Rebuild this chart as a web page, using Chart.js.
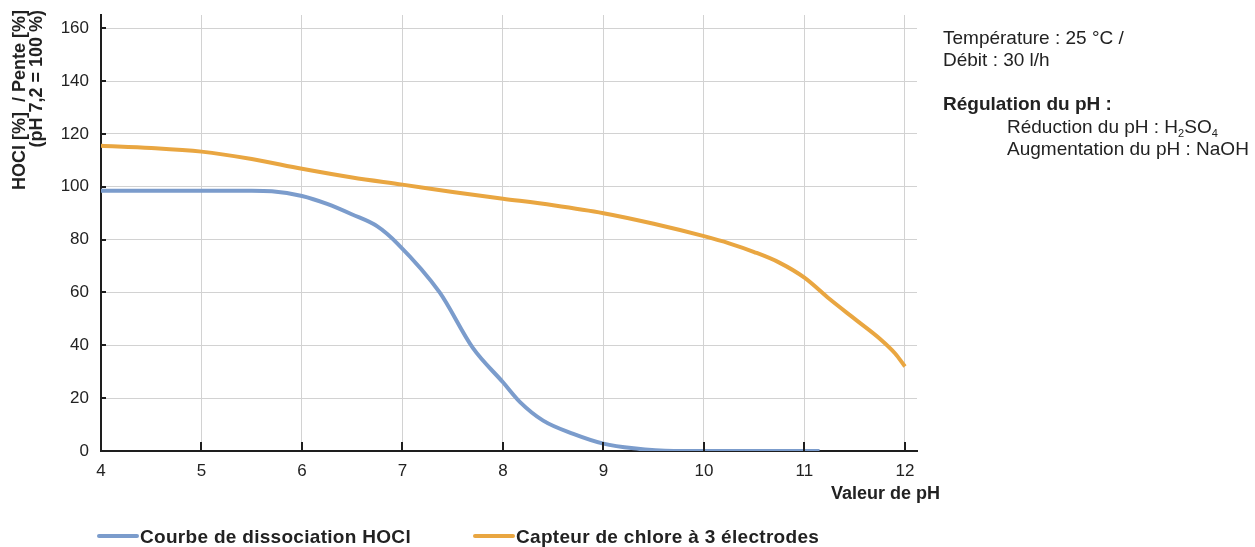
<!DOCTYPE html>
<html>
<head>
<meta charset="utf-8">
<script src="https://cdn.jsdelivr.net/npm/chart.js@4/dist/chart.umd.min.js"></script>
<style>
    body { margin: 0; background: #fff; font-family: "Liberation Sans", Arial, sans-serif; color: #222; }
    #wrap { position: relative; width: 1255px; height: 547px; }
    .note { position: absolute; font-size: 19px; line-height: 22px; white-space: nowrap; }
    .note sub { font-size: 11px; vertical-align: -4px; line-height: 0; }
    .leg { position: absolute; top: 525px; font-size: 19px; line-height: 24px; font-weight: bold; letter-spacing: 0.3px; white-space: nowrap; }
    .leg i { display: inline-block; width: 42px; height: 4px; border-radius: 2px; vertical-align: middle; margin-right: 1px; position: relative; top: -2px; }
</style>
</head>
<body>
<div id="wrap">
    <canvas id="chart" width="1255" height="547"></canvas>
    <div class="note" style="left:943px; top:27px;">Température : 25 °C /<br>Débit : 30 l/h</div>
    <div class="note" style="left:943px; top:93px; font-weight:bold;">Régulation du pH :</div>
    <div class="note" style="left:1007px; top:116px;">Réduction du pH : H<sub>2</sub>SO<sub>4</sub><br>Augmentation du pH : NaOH</div>
    <div class="leg" style="left:97px;"><i style="background:#7b9ccc"></i>Courbe de dissociation HOCl</div>
    <div class="leg" style="left:473px;"><i style="background:#e9a641"></i>Capteur de chlore à 3 électrodes</div>
</div>
<script>
// pH values and curves
const hoclPh = [4, 5, 5.5, 5.7, 6, 6.25, 6.5, 6.75, 6.95, 7.37, 7.7, 8, 8.17, 8.4, 8.7, 9, 9.3, 9.7, 10, 11.15];
const hoclVal = [98.5, 98.5, 98.5, 98.3, 96.5, 93.5, 89.5, 85, 78.5, 60, 39, 26, 18.5, 11.5, 6.5, 2.8, 1, 0, 0, 0];

const sensorPh = [4, 4.5, 5, 5.5, 6, 6.5, 7, 7.5, 8, 8.5, 9, 9.5, 10, 10.25, 10.5, 10.75, 11, 11.25, 11.5, 11.75, 11.9, 12];
const sensorVal = [115.5, 114.7, 113.3, 110.5, 106.8, 103.5, 100.8, 98, 95.5, 93, 90, 86, 81.3, 78.6, 75.3, 71.3, 65.6, 57.5, 50, 42.5, 37, 32];

const xTicks = [4, 5, 6, 7, 8, 9, 10, 11, 12];
const yTicks = [0, 20, 40, 60, 80, 100, 120, 140, 160];

const yTitle = ['HOCl [%]  / Pente [%]', '(pH 7,2 = 100 %)'];
const xTitle = 'Valeur de pH';

const pts = (xs, ys) => xs.map((x, i) => ({x: x, y: ys[i]}));

const axisDecor = {
    id: 'axisDecor',
    afterDraw(chart) {
        const ctx = chart.ctx;
        const {left, bottom} = chart.chartArea;
        const xs = chart.scales.x, ys = chart.scales.y;
        ctx.save();
        ctx.strokeStyle = '#1e1e1e';
        ctx.lineWidth = 2;
        // x ticks pointing up
        xTicks.forEach(v => {
            const px = Math.round(xs.getPixelForValue(v));
            ctx.beginPath();
            ctx.moveTo(px, bottom);
            ctx.lineTo(px, bottom - 9);
            ctx.stroke();
        });
        // y ticks pointing right
        yTicks.forEach(v => {
            const py = Math.round(ys.getPixelForValue(v));
            ctx.beginPath();
            ctx.moveTo(left, py);
            ctx.lineTo(left + 5, py);
            ctx.stroke();
        });
        // y title
        ctx.fillStyle = '#222';
        ctx.font = 'bold 18px "Liberation Sans", Arial, sans-serif';
        ctx.textBaseline = 'middle';
        ctx.translate(20, 10);
        ctx.rotate(-Math.PI / 2);
        ctx.textAlign = 'right';
        ctx.fillText(yTitle[0], 0, 0);
        ctx.fillText(yTitle[1], 0, 17);
        ctx.restore();
        // x title
        ctx.save();
        ctx.fillStyle = '#222';
        ctx.font = 'bold 18px "Liberation Sans", Arial, sans-serif';
        ctx.textAlign = 'right';
        ctx.textBaseline = 'middle';
        ctx.fillText(xTitle, 940, 494);
        ctx.restore();
    }
};

new Chart(document.getElementById('chart'), {
    type: 'scatter',
    data: {
        datasets: [
            {
                label: 'Courbe de dissociation HOCl',
                data: pts(hoclPh, hoclVal),
                borderColor: '#7b9ccc',
                borderWidth: 4,
                showLine: true,
                pointRadius: 0,
                cubicInterpolationMode: 'monotone',
            },
            {
                label: 'Capteur de chlore à 3 électrodes',
                data: pts(sensorPh, sensorVal),
                borderColor: '#e9a641',
                borderWidth: 4,
                showLine: true,
                pointRadius: 0,
                cubicInterpolationMode: 'monotone',
            },
        ]
    },
    options: {
        responsive: false,
        animation: false,
        devicePixelRatio: 1,
        layout: { padding: { top: 15, right: 338, bottom: 0, left: 0 } },
        plugins: {
            legend: { display: false },
            tooltip: { enabled: false },
        },
        scales: {
            x: {
                type: 'linear',
                min: 4,
                max: 12.12,
                afterBuildTicks: s => { s.ticks = xTicks.map(v => ({value: v})); },
                afterFit: s => { s.height = 96; s.paddingLeft = 0; s.paddingRight = 0; },
                ticks: {
                    padding: 10,
                    color: '#222',
                    font: { size: 17, family: '"Liberation Sans", Arial, sans-serif' },
                },
                grid: { color: '#d2d2d2', lineWidth: 1, drawTicks: false },
                border: { color: '#1e1e1e', width: 2 },
            },
            y: {
                min: 0,
                max: 165,
                afterBuildTicks: s => { s.ticks = yTicks.map(v => ({value: v})); },
                afterFit: s => { s.width = 101; s.paddingTop = 0; s.paddingBottom = 0; },
                ticks: {
                    padding: 12,
                    color: '#222',
                    font: { size: 17, family: '"Liberation Sans", Arial, sans-serif' },
                },
                grid: { color: '#d2d2d2', lineWidth: 1, drawTicks: false },
                border: { color: '#1e1e1e', width: 2 },
            }
        }
    },
    plugins: [axisDecor]
});
</script>
</body>
</html>
